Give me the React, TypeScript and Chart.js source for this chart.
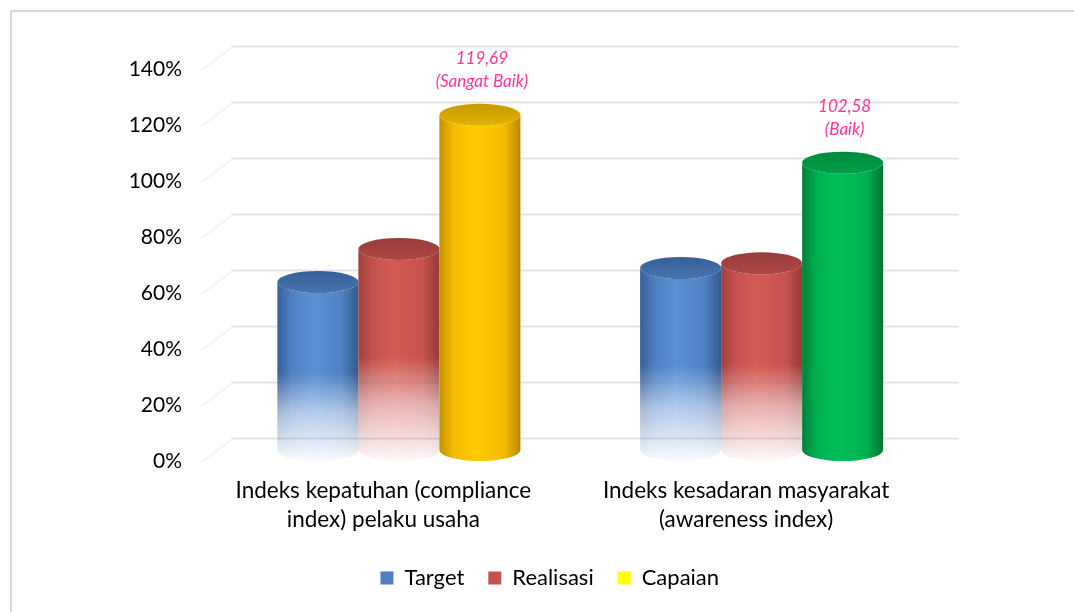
import React, { useEffect, useRef } from "react";
import { Chart, registerables } from "chart.js";

Chart.register(...registerables);

const categories: string[][] = [
  ["Indeks kepatuhan (compliance", "index) pelaku usaha"],
  ["Indeks kesadaran masyarakat", "(awareness index)"],
];
const seriesNames = ["Target", "Realisasi", "Capaian"];
const target = [60, 65];
const realisasi = [71.81, 66.68];
const capaian = [119.69, 102.58];
const capaianValueLabels = ["119,69", "102,58"];
const capaianGradeLabels = ["(Sangat Baik)", "(Baik)"];
const yMin = 0;
const yMax = 140;
const yStep = 20;

const DX = 15.5;
const DY = 11.5;
const RY = 11;
const LEGEND_SHIFT = 13.5;

type Palette = { edgeL: string; mid: string; hi: string; edgeR: string; top1: string; top2: string };
const bluePal: Palette = { edgeL: "#38609a", mid: "#4f80c2", hi: "#5c90d6", edgeR: "#34598f", top1: "#365f97", top2: "#4774b0" };
const redPal: Palette = { edgeL: "#a2403d", mid: "#c4524d", hi: "#d45b55", edgeR: "#963a37", top1: "#983c39", top2: "#ad4844" };
const yellowPal: Palette = { edgeL: "#c39200", mid: "#f5bc00", hi: "#ffcb00", edgeR: "#b88800", top1: "#c99a00", top2: "#e2b200" };
const greenPal: Palette = { edgeL: "#00803a", mid: "#00b04f", hi: "#00bf58", edgeR: "#007332", top1: "#008a3e", top2: "#00a049" };

const palettes: Palette[][] = [
  [bluePal, bluePal],
  [redPal, redPal],
  [yellowPal, greenPal],
];
const fades = [true, true, false];

function drawCylinder(
  ctx: CanvasRenderingContext2D,
  cx: number,
  top: number,
  base: number,
  w: number,
  pal: Palette,
  fade: boolean
) {
  const rx = w / 2;
  const x0 = cx - rx;
  const x1 = cx + rx;
  const body = ctx.createLinearGradient(x0, 0, x1, 0);
  body.addColorStop(0, pal.edgeL);
  body.addColorStop(0.18, pal.mid);
  body.addColorStop(0.45, pal.hi);
  body.addColorStop(0.8, pal.mid);
  body.addColorStop(1, pal.edgeR);
  ctx.beginPath();
  ctx.moveTo(x0, top);
  ctx.lineTo(x0, base);
  ctx.ellipse(cx, base, rx, RY, 0, Math.PI, 0, true);
  ctx.lineTo(x1, top);
  ctx.ellipse(cx, top, rx, RY, 0, 0, Math.PI, false);
  ctx.closePath();
  ctx.fillStyle = body;
  ctx.fill();
  const tg = ctx.createLinearGradient(0, top - RY, 0, top + RY);
  tg.addColorStop(0, pal.top1);
  tg.addColorStop(1, pal.top2);
  ctx.beginPath();
  ctx.ellipse(cx, top, rx, RY, 0, 0, Math.PI * 2);
  ctx.fillStyle = tg;
  ctx.fill();
  if (fade) {
    const fs = base - 0.46 * (base - top);
    const mg = ctx.createLinearGradient(0, fs, 0, base + RY);
    mg.addColorStop(0, "rgba(0,0,0,1)");
    mg.addColorStop(0.45, "rgba(0,0,0,0.45)");
    mg.addColorStop(1, "rgba(0,0,0,0.04)");
    ctx.globalCompositeOperation = "destination-in";
    ctx.fillStyle = mg;
    ctx.fillRect(x0 - 2, top - RY - 2, w + 4, base - top + 2 * RY + 4);
    ctx.globalCompositeOperation = "source-over";
  }
}

const framePlugin = {
  id: "frameAndGrid",
  afterLayout(chart: any) {
    if (chart.legend) {
      chart.legend.left += LEGEND_SHIFT;
      chart.legend.right += LEGEND_SHIFT;
    }
  },
  beforeDraw(chart: any) {
    const ctx = chart.ctx as CanvasRenderingContext2D;
    ctx.save();
    ctx.fillStyle = "#ffffff";
    ctx.fillRect(0, 0, chart.width, chart.height);
    ctx.strokeStyle = "#d9d9d9";
    ctx.lineWidth = 2;
    ctx.beginPath();
    ctx.moveTo(11, chart.height);
    ctx.lineTo(11, 11);
    ctx.lineTo(chart.width, 11);
    ctx.stroke();
    ctx.restore();
  },
  beforeDatasetsDraw(chart: any) {
    const ctx = chart.ctx as CanvasRenderingContext2D;
    const ys = chart.scales.y;
    const area = chart.chartArea;
    ctx.save();
    for (let v = yMin; v <= yMax; v += yStep) {
      const y = ys.getPixelForValue(v) - DY;
      ctx.strokeStyle = "#e3e3e3";
      ctx.lineWidth = 2;
      ctx.beginPath();
      ctx.moveTo(area.left + DX, y);
      ctx.lineTo(area.right + DX, y);
      ctx.stroke();
      ctx.strokeStyle = "#e6e6e6";
      ctx.lineWidth = 1;
      ctx.beginPath();
      ctx.moveTo(area.left - DX, y + 2 * DY);
      ctx.lineTo(area.left + DX, y);
      ctx.stroke();
    }
    ctx.restore();
  },
};

const cylinderPlugin = {
  id: "cylinders",
  afterDatasetsDraw(chart: any) {
    const ctx = chart.ctx as CanvasRenderingContext2D;
    const off = document.createElement("canvas");
    off.width = chart.canvas.width;
    off.height = chart.canvas.height;
    const octx = off.getContext("2d") as CanvasRenderingContext2D;
    const n = categories.length;
    for (let i = 0; i < n; i++) {
      chart.data.datasets.forEach((_ds: any, di: number) => {
        const meta = chart.getDatasetMeta(di);
        const el = meta.data[i];
        if (!el) return;
        const p = el.getProps(["x", "y", "base", "width"], true);
        octx.clearRect(0, 0, off.width, off.height);
        drawCylinder(octx, p.x, p.y, p.base, p.width, palettes[di][i], fades[di]);
        ctx.drawImage(off, 0, 0, chart.width, chart.height);
      });
    }
    const meta = chart.getDatasetMeta(2);
    ctx.save();
    ctx.fillStyle = "#ff3399";
    ctx.textAlign = "center";
    ctx.textBaseline = "middle";
    ctx.font = "italic 17px 'Lato'";
    meta.data.forEach((el: any, i: number) => {
      ctx.fillText(capaianValueLabels[i], el.x + 2, el.y - 56);
      ctx.fillText(capaianGradeLabels[i], el.x + 2, el.y - 33);
    });
    ctx.restore();
  },
};

export default function App() {
  const ref = useRef<HTMLCanvasElement | null>(null);
  useEffect(() => {
    if (!ref.current) return;
    const legendFills = [bluePal.mid, redPal.mid, "#ffff00"];
    const chart = new Chart(ref.current, {
      type: "bar",
      data: {
        labels: categories,
        datasets: [
          { label: seriesNames[0], data: target, backgroundColor: "rgba(0,0,0,0)", borderWidth: 0 },
          { label: seriesNames[1], data: realisasi, backgroundColor: "rgba(0,0,0,0)", borderWidth: 0 },
          { label: seriesNames[2], data: capaian, backgroundColor: "rgba(0,0,0,0)", borderWidth: 0 },
        ],
      },
      options: {
        responsive: false,
        animation: false,
        devicePixelRatio: 1,
        layout: { padding: { left: 129.5, right: 131, top: 58, bottom: 13 } },
        datasets: { bar: { categoryPercentage: 0.67, barPercentage: 1 } },
        scales: {
          x: {
            grid: { display: false, drawTicks: false },
            border: { display: false },
            ticks: {
              color: "#000",
              font: { family: "Lato", size: 22.5, lineHeight: 1.29 },
              padding: 26.5,
              labelOffset: -15.5,
              maxRotation: 0,
              autoSkip: false,
            },
            afterFit: (s: any) => {
              s.height = 93;
            },
          },
          y: {
            min: yMin,
            max: yMax,
            grid: { display: false, drawTicks: false },
            border: { display: false },
            ticks: {
              stepSize: yStep,
              color: "#000",
              font: { family: "Lato", size: 21 },
              padding: 35.5,
              labelOffset: 11.5,
              callback: (v: any) => v + "%",
            },
            afterFit: (s: any) => {
              s.width = 88;
            },
          },
        },
        plugins: {
          legend: {
            position: "bottom",
            labels: {
              color: "#000",
              font: { family: "Lato", size: 22 },
              boxWidth: 13,
              boxHeight: 13,
              padding: 24,
              generateLabels: () =>
                seriesNames.map((name, i) => ({
                  text: name,
                  fillStyle: legendFills[i],
                  strokeStyle: legendFills[i],
                  lineWidth: 0,
                  hidden: false,
                  datasetIndex: i,
                  fontColor: "#000",
                })),
            },
          },
          tooltip: { enabled: false },
        },
      },
      plugins: [framePlugin, cylinderPlugin],
    });
    return () => chart.destroy();
  }, []);
  return (
    <div style={{ position: "fixed", left: 0, top: 0, width: 1074, height: 612, background: "#fff" }}>
      <canvas ref={ref} width={1074} height={612} />
    </div>
  );
}
